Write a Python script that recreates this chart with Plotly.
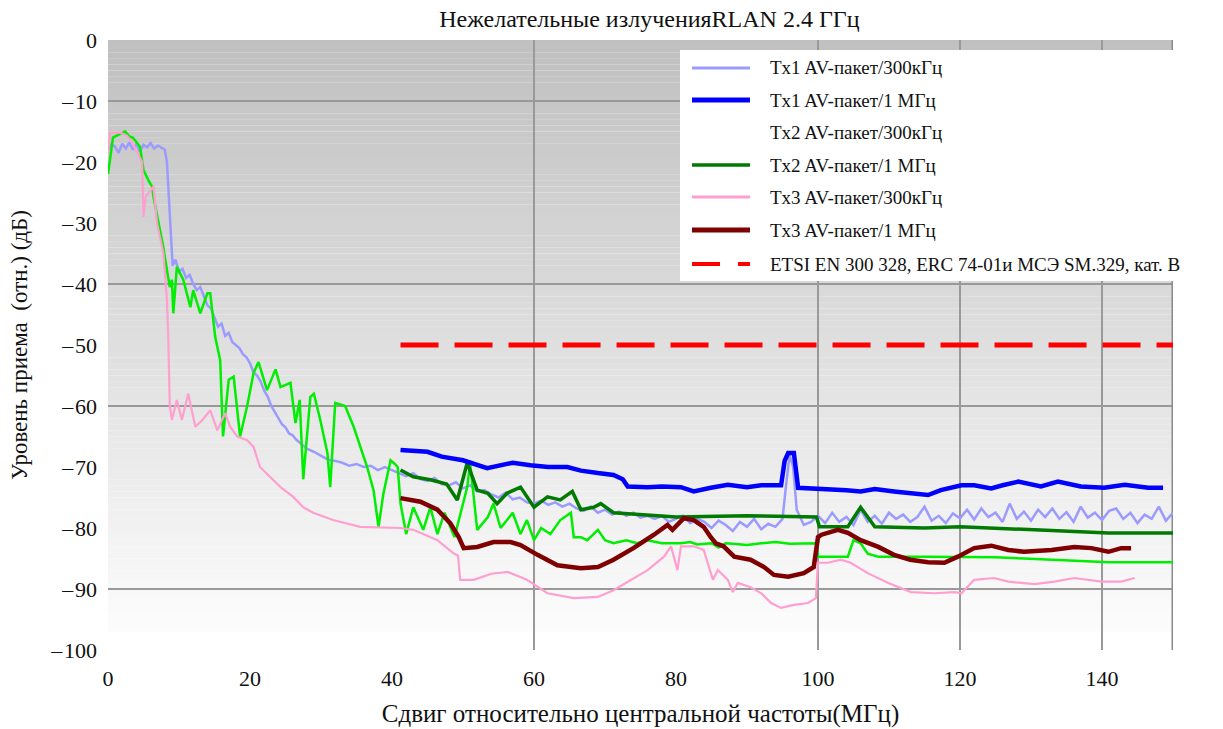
import plotly.graph_objects as go

# ---- text ----
chart_title = "Нежелательные излученияRLAN 2.4 ГГц"
x_axis_title = "Сдвиг относительно центральной частоты(МГц)"
y_axis_title = "Уровень приема  (отн.) (дБ)"
x_tick_vals = [0, 20, 40, 60, 80, 100, 120, 140]
y_tick_vals = [0, -10, -20, -30, -40, -50, -60, -70, -80, -90, -100]
y_tick_text = ["0", "–\u200a10", "–\u200a20", "–\u200a30", "–\u200a40", "–\u200a50",
               "–\u200a60", "–\u200a70", "–\u200a80", "–\u200a90", "–\u200a100"]

legend_names = [
    "Tx1 AV-пакет/300кГц",
    "Tx1 AV-пакет/1 МГц",
    "Tx2 AV-пакет/300кГц",
    "Tx2 AV-пакет/1 МГц",
    "Tx3 AV-пакет/300кГц",
    "Tx3 AV-пакет/1 МГц",
    "ETSI EN 300 328, ERC 74-01и МСЭ SM.329, кат. B",
]

# ---- Tx1, 300 kHz ----
tx1_300_x = [0, 0.5, 1, 1.5, 2, 2.5, 3, 3.5, 4, 4.5, 5, 5.5, 6, 6.5, 7, 7.5, 8, 8.3, 8.6, 8.9,
             9.1, 9.5, 10, 10.5, 11, 11.5, 12, 12.5, 13, 13.5, 14, 14.5, 15, 15.5, 16, 16.5, 17,
             17.5, 18, 18.5, 19, 19.5, 20, 20.5, 21, 21.5, 22, 22.5, 23, 23.5, 24, 24.5, 25, 25.5,
             26, 26.5, 27, 28, 29, 30, 31, 32, 33, 34, 35, 36, 37, 38, 39, 40, 41, 42, 43, 44, 45,
             46, 47, 48, 49, 50, 51, 52, 53, 54, 55, 56, 57, 58, 59, 60, 61, 62, 63, 64, 65, 66, 67,
             68, 69, 70, 71, 72, 73, 74, 75, 76, 77, 78, 79, 80, 81, 82, 83, 84, 85, 86, 87, 88, 89,
             90, 91, 92, 93, 94, 95, 95.5, 96, 96.5, 97, 98, 99, 100, 101, 102, 103, 104, 105, 106,
             107, 108, 109, 110, 111, 112, 113, 114, 115, 116, 117, 118, 119, 120, 121, 122, 123,
             124, 125, 126, 127, 128, 129, 130, 131, 132, 133, 134, 135, 136, 137, 138, 139, 140,
             141, 142, 143, 144, 145, 146, 147, 148, 149, 150]
tx1_300_y = [-18, -17, -17.5, -18.5, -17, -17.8, -16.8, -18, -17, -18.3, -17.2, -17.6, -16.9, -17.8,
             -17.3, -17.6, -18, -20, -27, -33, -37, -36, -38, -37.5, -39, -38.5, -40, -41, -40.5,
             -42, -43.5, -44, -45.5, -47, -46.5, -48.5, -48, -49.5, -50, -50.5, -51.5, -52, -53,
             -54.5, -55, -56, -57.5, -58.5, -60, -61, -62, -63, -63.5, -64.5, -64.8, -65.5, -66,
             -67, -67.5, -68.2, -68.8, -69, -69.3, -69.8, -69.5, -70, -69.8, -70.5, -70, -70.5,
             -71, -71.5, -71, -72, -72.3, -71.8, -72.8, -73, -72.5, -73.5, -73, -74, -73.8, -74.5,
             -75, -74.2, -75.3, -75, -75.8, -76, -75.5, -76.2, -75.8, -76.5, -76, -76.8, -77.2,
             -76.5, -77.5, -77, -77.8, -77.3, -78, -77.5, -78.3, -78, -78.5, -78, -79, -78.5, -78,
             -79.2, -78.5, -79, -80, -78.8, -79.5, -80.5, -79, -79.8, -78.5, -80.2, -79.3, -79.8,
             -78.5, -73, -68, -70, -77, -79.5, -79, -78, -79.2, -77.5, -79, -78.2, -79.5, -77,
             -79, -78, -79.3, -77.5, -78.5, -77.8, -79, -78.2, -76.5, -78.8, -78, -79.2, -77.6,
             -78.4, -77, -78.6, -76.8, -78.2, -77.5, -79, -76, -78.5, -77.3, -78.8, -77, -78.2,
             -76.8, -78.5, -77.4, -79, -76.5, -78.3, -77.5, -78.7, -77.2, -76.8, -78.5, -77.5,
             -79.2, -77.8, -78.5, -76.5, -78.8, -77.5]

# ---- Tx1, 1 MHz ----
tx1_1m_x = [41.2, 43, 45, 47, 50, 53.4, 55, 57, 59.5, 62, 64.7, 66.6, 69, 71.2, 72.5, 73.2, 76, 78,
            80.7, 82.5, 84.9, 87.3, 90, 92, 94.8, 95.3, 95.8, 96.6, 97.2, 99, 101.4, 104, 106, 108,
            110.7, 113, 115.5, 117.3, 120.2, 122, 124.4, 126, 128.2, 131.4, 133.8, 137, 140.3,
            143.2, 146.5, 148.6]
tx1_1m_y = [-67.2, -67.3, -67.5, -68.3, -68.9, -70.2, -69.8, -69.3, -69.7, -70, -70, -70.6, -71,
            -71.3, -72, -73.2, -73.3, -73.2, -73.3, -74, -73.4, -72.9, -73.3, -73, -73, -69, -67.7,
            -67.7, -73.4, -73.5, -73.5, -73.8, -74, -73.6, -74, -74.2, -74.6, -73.8, -73, -73,
            -73.5, -73, -72.4, -73.2, -72.4, -73.2, -73.4, -72.9, -73.4, -73.4]

# ---- Tx2, 300 kHz ----
tx2_300_x = [0, 0.3, 0.7, 1.5, 2.4, 3, 3.5, 4.5, 5, 5.7, 6.2, 6.4, 6.8, 7.3, 7.8, 8.3, 8.7, 9, 9.2,
             9.7, 10.6, 11.6, 12, 13, 14, 14.4, 15.1, 15.8, 16.2, 17, 17.7, 18.6, 19.6, 20.5, 21.2,
             22.4, 23.6, 24.3, 25.7, 26.4, 27, 27.5, 28.5, 29, 29.9, 30.9, 31.3, 32, 33.4, 34.6,
             35.5, 36.5, 37.4, 38.1, 38.8, 39.8, 40.4, 40.8, 41.2, 42, 43, 44.4, 45.4, 46.4, 47.4,
             48.8, 50.6, 51, 52, 53.5, 54.3, 55.3, 57, 58.1, 59, 60, 61, 62.3, 63.7, 65.2, 65.6,
             66.6, 67.5, 69, 70, 71.2, 73, 74.5, 76, 78, 80.7, 82, 83, 85, 86, 87, 88, 90, 92, 94,
             96, 98, 99.8, 100, 104.2, 105, 106, 107, 108.5, 115, 120, 125, 129, 136, 141, 150]
tx2_300_y = [-22, -19, -16, -15.5, -15, -15.8, -16, -17.5, -21.3, -23, -24, -25.7, -28, -31, -34,
             -37.7, -40.5, -39.3, -44.8, -37.2, -39.3, -43.8, -41, -44.8, -41.5, -41.5, -48.7,
             -52.5, -65, -55.7, -55.2, -65, -60, -54.6, -52.8, -57.4, -54, -56.9, -56.2, -62.8,
             -59, -72, -58.5, -58, -62.3, -67.7, -73.3, -59.5, -60, -63.4, -66.7, -70, -73.8,
             -79.8, -74.3, -68.9, -69.5, -70, -76, -81, -76.6, -80.3, -76.6, -81, -77.5, -81.5,
             -73.3, -69.3, -80.3, -78.2, -76, -80, -77.5, -81, -78.7, -82, -80, -81, -78.7, -77.5,
             -81.5, -81.5, -82, -80.3, -82, -82.5, -82, -82.5, -82, -82.5, -82.5, -82.3, -82.7,
             -82.5, -83.2, -82.5, -82.6, -82.8, -82.5, -82.3, -82.6, -82.5, -82.5, -84.7, -84.7,
             -82, -82.5, -84.2, -84.7, -84.7, -84.7, -84.8, -85, -85.3, -85.6, -85.6]

# ---- Tx2, 1 MHz ----
tx2_1m_x = [41.2, 43, 45.4, 47.7, 49.2, 50.6, 52, 53.5, 54.8, 56.2, 58.1, 60, 61.9, 63.7, 65.4,
            66.6, 68.4, 69.4, 71.2, 75, 80, 90, 99.8, 100.2, 104.2, 106, 108, 115, 120, 130.5,
            140.9, 150]
tx2_1m_y = [-70.5, -71.6, -72.1, -72.8, -75.4, -69.3, -73.8, -74.3, -76, -74.3, -73.3, -76.6,
            -74.9, -75.4, -74, -77, -76.6, -76, -77.5, -77.8, -78.2, -78, -78.2, -79.8, -79.8,
            -76.6, -79.8, -80, -79.8, -80.3, -80.8, -80.8]

# ---- Tx3, 300 kHz ----
tx3_300_x = [0, 0.3, 1.7, 2.7, 3.5, 4.2, 4.8, 5, 5.3, 6.4, 6.9, 7.3, 7.8, 8.3, 8.5, 8.7, 9, 9.7,
             10.4, 11.3, 12.3, 13.3, 14.4, 15.4, 16.5, 17.2, 18.2, 19.6, 20.5, 21.4, 22.8, 24.3,
             26.1, 27.5, 28.9, 31.7, 35.5, 41.2, 43, 46.4, 48.7, 49.3, 49.6, 51.5, 54, 56.3, 59,
             61.9, 65.6, 69, 71.2, 76, 78.3, 79.3, 80.2, 80.7, 82.5, 83.9, 85.2, 85.9, 87.3, 88,
             88.7, 90.5, 92, 93.4, 94.8, 96.6, 98.6, 99.7, 100, 101.4, 103.2, 104.6, 107, 109.9,
             113.1, 116.4, 119.2, 120.2, 122, 124.8, 126.8, 130.5, 133.3, 136.1, 139.9, 142.7,
             144.6]
tx3_300_y = [-18.6, -15.2, -15.2, -15.7, -17, -18.6, -20, -29, -25.7, -24, -30, -32.2, -35, -42.6,
             -49.2, -60, -62.3, -59, -62.3, -58, -63.4, -62.3, -60.7, -64, -61.2, -63.4, -65, -65.6,
             -66.7, -70, -71.6, -73.3, -74.9, -76.6, -77.5, -78.7, -79.8, -80, -80.3, -82, -84.2,
             -84.5, -88.5, -88.5, -87.5, -87.2, -88.5, -90.7, -91.5, -91.3, -90.2, -86.9, -84.7,
             -83, -86.9, -83, -83, -83.6, -88.5, -86.9, -88.5, -90.5, -89, -89.7, -90.7, -92.3,
             -93.1, -92.6, -92.3, -91.5, -85.7, -85.7, -85.2, -85.7, -87.4, -89, -90.5, -90.7,
             -90.5, -90.7, -88.5, -88.2, -88.8, -89.2, -88.8, -88.2, -88.8, -88.8, -88.2]

# ---- Tx3, 1 MHz ----
tx3_1m_x = [41.2, 44, 46.4, 48.2, 49.4, 50.1, 52, 54.3, 56.7, 58.1, 60.5, 63.3, 66.6, 69, 71.2, 74,
            76.9, 78.8, 79.5, 80.5, 81.1, 82.5, 83.9, 84.9, 85.6, 86.7, 88.2, 90.5, 92.4, 93.8,
            95.8, 98, 99.4, 100, 100.5, 102.8, 104.2, 106, 108.5, 110.7, 113, 115.5, 117.8, 119.7,
            122, 124.4, 126.8, 129, 132.9, 136.1, 138.5, 140.9, 142.7, 144.1]
tx3_1m_y = [-75.1, -75.7, -77, -79.2, -81.5, -83.3, -83.1, -82.3, -82.3, -82.8, -84.4, -86.1,
            -86.6, -86.4, -85.2, -83.3, -81.1, -79.5, -80.3, -79, -78.4, -78.7, -79.8, -81.5,
            -82.5, -83, -84.7, -85.2, -86.4, -87.7, -88, -87.4, -86.4, -81.5, -81.1, -80.3, -80.8,
            -82, -83.1, -84.4, -85.2, -85.6, -85.7, -84.7, -83.3, -82.9, -83.6, -83.9, -83.6,
            -83.1, -83.3, -83.9, -83.3, -83.3]

# ---- regulatory limit ----
limit_x = [41.2, 150]
limit_y = [-50, -50]

FONT = "Liberation Serif"
W, H = 1223, 729
L, R, T, B = 108, 50, 40, 79
PW, PH = W - L - R, H - T - B


def paper_x(px):
    return (px - L) / PW


def paper_y(py):
    return (H - B - py) / PH


fig = go.Figure()

series = [
    (tx1_300_x, tx1_300_y, "#9b9bff", 2.5, "solid"),
    (tx2_300_x, tx2_300_y, "#00ee00", 2.5, "solid"),
    (tx3_300_x, tx3_300_y, "#ff9fcf", 2.2, "solid"),
    (tx2_1m_x, tx2_1m_y, "#007a00", 3.5, "solid"),
    (tx1_1m_x, tx1_1m_y, "#0000ff", 4.5, "solid"),
    (tx3_1m_x, tx3_1m_y, "#7f0000", 4.5, "solid"),
    (limit_x, limit_y, "#ff0000", 5, "38px,16px"),
]
for xs, ys, color, width, dash in series:
    fig.add_trace(go.Scatter(x=xs, y=ys, mode="lines", showlegend=False, hoverinfo="skip",
                             line=dict(color=color, width=width, dash=dash)))

shapes = []
# grey-to-white background gradient
n_strips = 97
for i in range(n_strips):
    v = round(192 + (252 - 192) * i / (n_strips - 1))
    shapes.append(dict(type="rect", xref="x", yref="y", x0=0, x1=150, y0=-i, y1=-(i + 1.02),
                       fillcolor=f"rgb({v},{v},{v})", line=dict(width=0), layer="below"))

grid_color = "#999999"
for gy in [-10, -40, -60, -90]:
    shapes.append(dict(type="line", xref="x", yref="y", x0=0, x1=150, y0=gy, y1=gy,
                       line=dict(color=grid_color, width=2), layer="below"))
for gx in [60, 100, 120, 140]:
    shapes.append(dict(type="line", xref="x", yref="y", x0=gx, x1=gx, y0=-100, y1=0,
                       line=dict(color=grid_color, width=2), layer="below"))
shapes.append(dict(type="line", xref="x", yref="y", x0=150, x1=150, y0=-100, y1=0,
                   line=dict(color="#8a8a8a", width=3), layer="below"))

# legend panel
shapes.append(dict(type="rect", xref="paper", yref="paper", x0=paper_x(680), x1=paper_x(1223),
                   y0=paper_y(281), y1=paper_y(50), fillcolor="white", line=dict(width=0),
                   layer="above"))

legend_rows = [68, 100, 132, 165, 197, 230, 264]
legend_styles = [
    ("#9b9bff", 3, "solid"),
    ("#0000ff", 5, "solid"),
    (None, 0, "solid"),
    ("#007a00", 3.5, "solid"),
    ("#ff9fcf", 3, "solid"),
    ("#7f0000", 5, "solid"),
    ("#ff0000", 4, "28px,18px"),
]
annotations = []
for row, name, (color, width, dash) in zip(legend_rows, legend_names, legend_styles):
    if color is not None:
        shapes.append(dict(type="line", xref="paper", yref="paper", x0=paper_x(692),
                           x1=paper_x(750), y0=paper_y(row), y1=paper_y(row),
                           line=dict(color=color, width=width, dash=dash), layer="above"))
    annotations.append(dict(text=name, xref="paper", yref="paper", x=paper_x(768),
                            y=paper_y(row), xanchor="left", yanchor="middle", showarrow=False,
                            font=dict(family=FONT, size=19, color="#111111")))

fig.update_layout(
    width=W, height=H,
    margin=dict(l=L, r=R, t=T, b=B),
    paper_bgcolor="white",
    plot_bgcolor="white",
    font=dict(family=FONT, color="#111111"),
    title=dict(text=chart_title, x=0.531, xref="container", xanchor="center",
               y=1 - 19 / H, yref="container", yanchor="middle",
               font=dict(family=FONT, size=24, color="#111111")),
    shapes=shapes,
    annotations=annotations,
    showlegend=False,
)
fig.update_xaxes(range=[0, 150], tickvals=x_tick_vals, showgrid=False, zeroline=False,
                 showline=False, ticks="", ticklabelstandoff=13, automargin=False,
                 tickfont=dict(family=FONT, size=22, color="#111111"),
                 title=dict(text=x_axis_title, standoff=14,
                            font=dict(family=FONT, size=25, color="#111111")))
fig.update_yaxes(range=[-100, 0], tickvals=y_tick_vals, ticktext=y_tick_text, showgrid=False,
                 zeroline=False, showline=False, ticks="", ticklabelstandoff=10,
                 automargin=False,
                 tickfont=dict(family=FONT, size=22, color="#111111"),
                 title=dict(text=y_axis_title, standoff=16,
                            font=dict(family=FONT, size=23, color="#111111")))

fig.write_html("out.html")
